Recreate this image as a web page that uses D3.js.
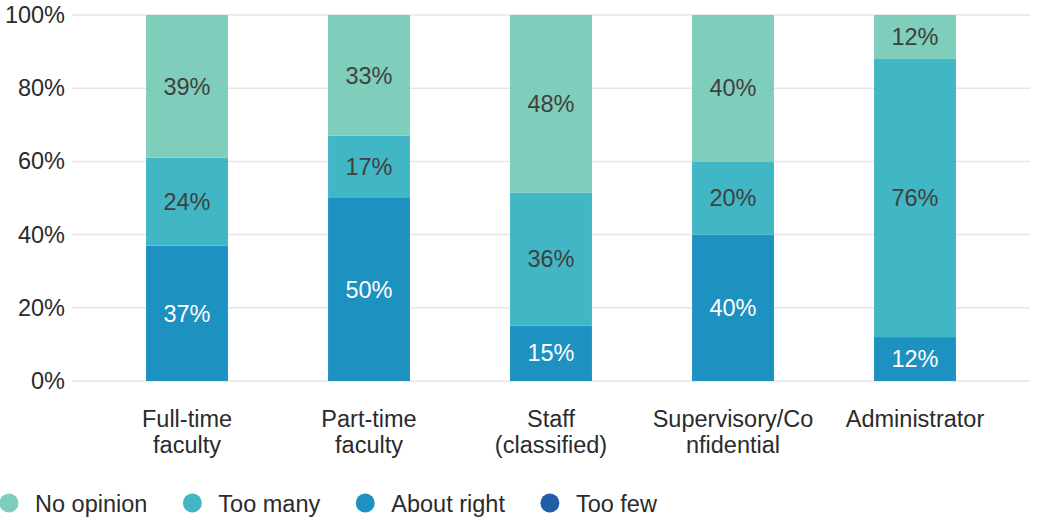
<!DOCTYPE html>
<html>
<head>
<meta charset="utf-8">
<script src="https://cdn.jsdelivr.net/npm/d3@7"></script>
<style>
  html, body { margin: 0; padding: 0; background: #fff; }
  svg { display: block; font-family: "Liberation Sans", Arial, sans-serif; }
</style>
</head>
<body>
<svg id="chart" width="1037" height="520"></svg>
<script>
const categories = ["Full-time faculty", "Part-time faculty", "Staff (classified)", "Supervisory/Confidential", "Administrator"];
const categoryLines = [["Full-time", "faculty"], ["Part-time", "faculty"], ["Staff", "(classified)"], ["Supervisory/Co", "nfidential"], ["Administrator"]];
const seriesNames = ["Too few", "About right", "Too many", "No opinion"];
const tooFew = [0, 0, 0, 0, 0];
const aboutRight = [37, 50, 15, 40, 12];
const tooMany = [24, 17, 36, 20, 76];
const noOpinion = [39, 33, 48, 40, 12];
const yTicks = [0, 0.2, 0.4, 0.6, 0.8, 1.0];
const colors = {"No opinion": "#7fcdbb", "Too many": "#41b6c4", "About right": "#1d91c0", "Too few": "#225ea8"};
const legendOrder = ["No opinion", "Too many", "About right", "Too few"];

const rows = categories.map((c, i) => ({
  cat: c,
  "Too few": tooFew[i],
  "About right": aboutRight[i],
  "Too many": tooMany[i],
  "No opinion": noOpinion[i]
}));

const svg = d3.select("#chart");
const x = d3.scaleBand().domain(categories).range([96, 1006]).paddingInner(0.55).paddingOuter(0.275);
const y = d3.scaleLinear().domain([0, 1]).range([381, 15]);

// gridlines
svg.append("g").selectAll("line").data(yTicks).join("line")
  .attr("x1", 72).attr("x2", 1030)
  .attr("y1", d => y(d)).attr("y2", d => y(d))
  .attr("stroke", "#e6e6e6").attr("stroke-width", 1.5);

// y axis labels
const yAxis = d3.axisLeft(y).tickValues(yTicks).tickFormat(d3.format(".0%")).tickSize(0).tickPadding(0);
const yg = svg.append("g").attr("transform", "translate(65,0)").call(yAxis);
yg.select(".domain").remove();
yg.selectAll("text").attr("font-size", 23.5).attr("fill", "#2b2b2b").attr("font-family", "Liberation Sans, Arial, sans-serif");

// stacks
const stack = d3.stack().keys(seriesNames).offset(d3.stackOffsetExpand);
const series = stack(rows);

const g = svg.append("g");
series.forEach(s => {
  const key = s.key;
  g.append("g").selectAll("rect").data(s).join("rect")
    .attr("x", d => x(d.data.cat))
    .attr("width", x.bandwidth())
    .attr("y", d => y(d[1]))
    .attr("height", d => y(d[0]) - y(d[1]))
    .attr("fill", colors[key]);
  g.append("g").selectAll("text").data(s.filter(d => d.data[key] > 0)).join("text")
    .attr("x", d => x(d.data.cat) + x.bandwidth() / 2)
    .attr("y", d => (y(d[0]) + y(d[1])) / 2)
    .attr("dy", "0.35em")
    .attr("text-anchor", "middle")
    .attr("font-size", 23.5)
    .attr("fill", (key === "About right" || key === "Too few") ? "#ffffff" : "#404040")
    .text(d => d.data[key] + "%");
});

// x axis labels
const xg = svg.append("g");
categories.forEach((c, i) => {
  const t = xg.append("text")
    .attr("x", x(c) + x.bandwidth() / 2)
    .attr("y", 427)
    .attr("text-anchor", "middle")
    .attr("font-size", 23.5)
    .attr("fill", "#2b2b2b");
  categoryLines[i].forEach((line, j) => {
    t.append("tspan").attr("x", x(c) + x.bandwidth() / 2).attr("dy", j === 0 ? 0 : 26).text(line);
  });
});

// legend
const lg = svg.append("g");
let lx = 9;
legendOrder.forEach(name => {
  lg.append("circle").attr("cx", lx).attr("cy", 503).attr("r", 9.5).attr("fill", colors[name]);
  const t = lg.append("text").attr("x", lx + 26).attr("y", 504).attr("dy", "0.35em")
    .attr("font-size", 23.5).attr("fill", "#2b2b2b").text(name);
  const w = t.node().getComputedTextLength();
  lx = lx + 26 + w + 45;
});
</script>
</body>
</html>
